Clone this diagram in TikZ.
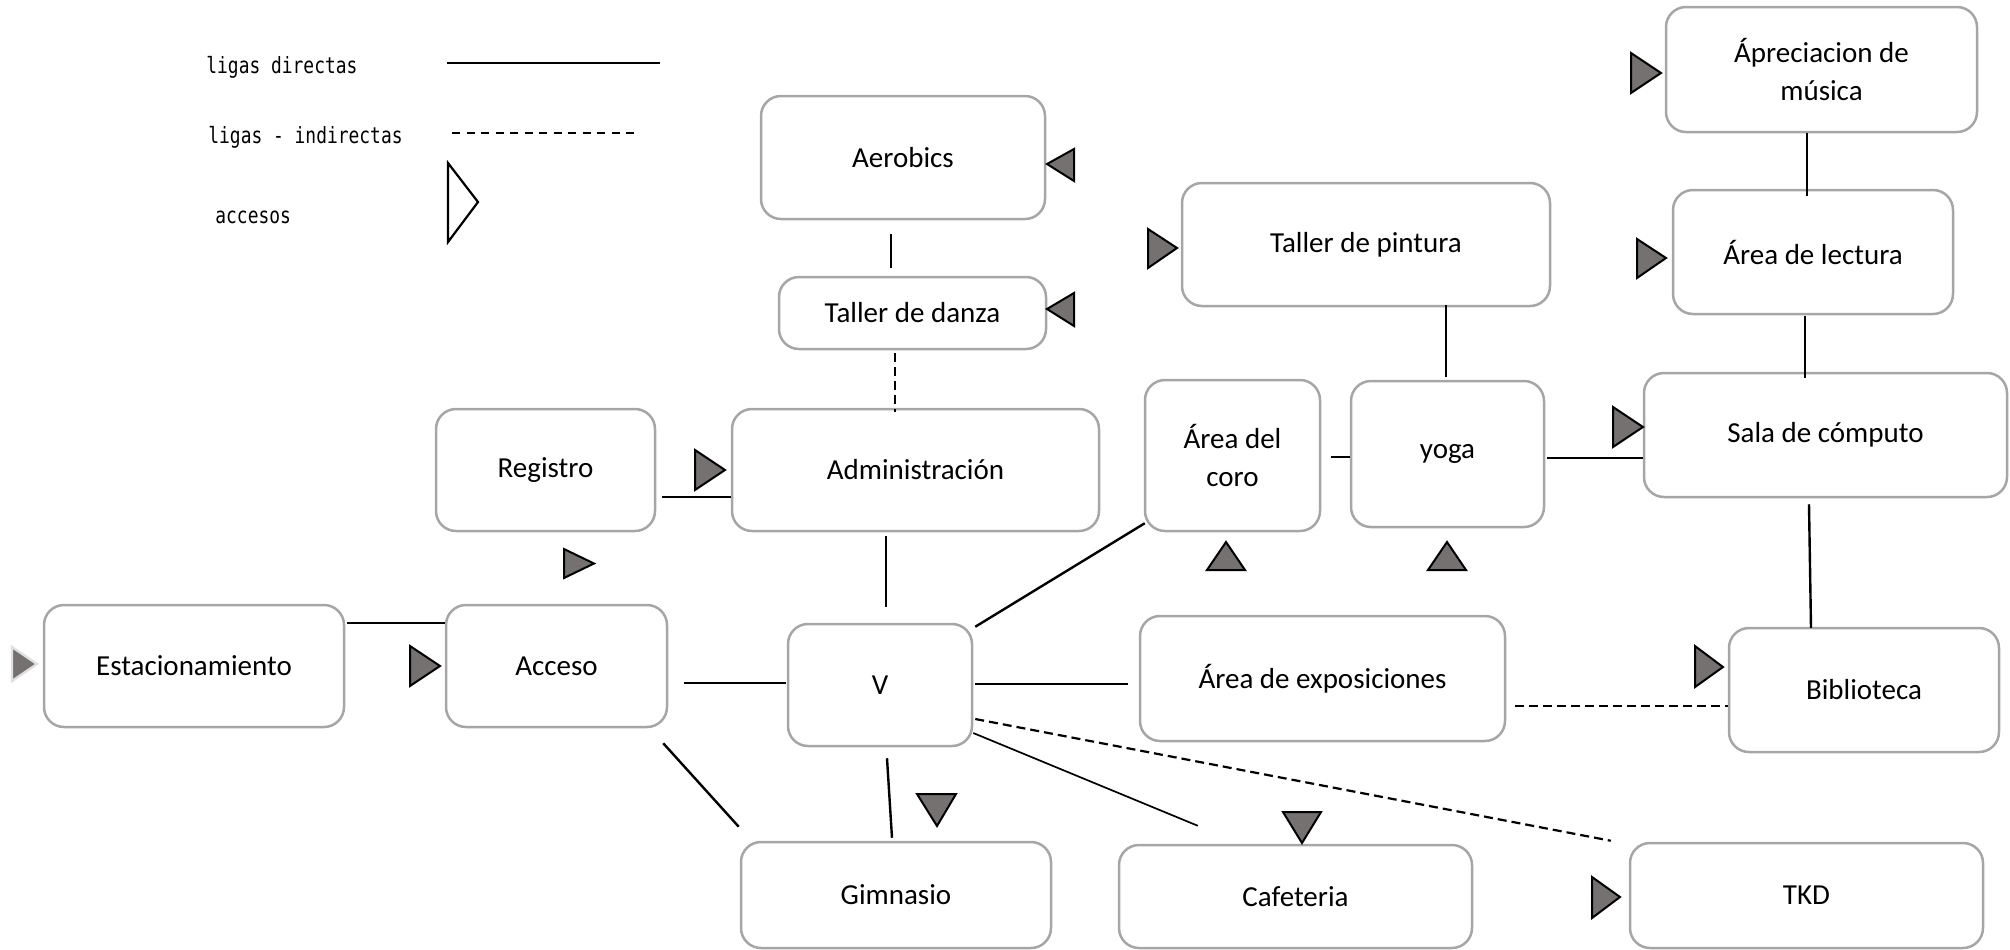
\documentclass[tikz,border=0pt]{standalone}
\usepackage{fontspec}
\setmainfont{Carlito}
\newfontfamily\legfont[FakeStretch=0.8]{DejaVu Sans Mono}
\usetikzlibrary{calc}
\definecolor{boxgray}{HTML}{A6A6A6}
\definecolor{accgray}{HTML}{767171}
\tikzset{
  box/.style={draw=boxgray, line width=1.25pt, rounded corners=10pt, fill=white,
    align=center, inner sep=0pt, font=\fontsize{14.5pt}{19pt}\selectfont},
  link/.style={line width=1.2pt, black},
  thinlink/.style={line width=0.85pt, black},
  dlink/.style={line width=1.1pt, black, dash pattern=on 4.5pt off 2.5pt},
  acc/.style={fill=accgray, draw=black, line width=1pt, line join=miter},
  legtext/.style={anchor=base west, inner sep=0pt, font=\legfont\fontsize{11.2pt}{13pt}\selectfont}
}
\begin{document}
\begin{tikzpicture}[x=0.5pt,y=-0.5pt]
\useasboundingbox (0,0) rectangle (2010,949);

% legend
\node[legtext] (l1) at (206,73) {ligas directas};
\node[legtext] (l2) at (208,143) {ligas - indirectas};
\node[legtext] (l3) at (215,223) {accesos};
\draw[line width=0.6pt] (447,63) -- (660,63);
\draw[line width=0.9pt, dash pattern=on 4pt off 3.25pt] (452,133) -- (640,133);
\draw[line width=1.1pt, fill=white, line join=miter] (448,163) -- (478,202) -- (448,242) -- cycle;

% boxes
\node[box, minimum width=142pt, minimum height=61.5pt] (aero) at (903,157.5) {Aerobics};
\node[box, minimum width=133.5pt, minimum height=36pt] (danza) at (912.5,313) {Taller de danza};
\node[box, minimum width=109.5pt, minimum height=61pt] (registro) at (545.5,470) {Registro};
\node[box, minimum width=183.5pt, minimum height=61pt] (admin) at (915.5,470) {Administración};
\node[box, minimum width=150pt, minimum height=61pt] (estac) at (194,666) {Estacionamiento};
\node[box, minimum width=110.5pt, minimum height=61pt] (acceso) at (556.5,666) {Acceso};
\node[box, minimum width=92pt, minimum height=61pt] (V) at (880,685) {V};
\node[box, minimum width=155pt, minimum height=53pt] (gimnasio) at (896,895) {Gimnasio};
\node[box, minimum width=176.5pt, minimum height=51.5pt] (cafe) at (1295.5,896.5) {Cafeteria};
\node[box, minimum width=176.5pt, minimum height=52.5pt] (tkd) at (1806.5,895.5) {TKD};
\node[box, minimum width=182.5pt, minimum height=62.5pt] (expo) at (1322.5,678.5) {Área de exposiciones};
\node[box, minimum width=135pt, minimum height=62pt] (biblio) at (1864,690) {Biblioteca};
\node[box, minimum width=87.5pt, minimum height=75.5pt] (coro) at (1232.5,455.5) {Área del\\coro};
\node[box, minimum width=96.5pt, minimum height=73pt] (yoga) at (1447.5,454) {yoga};
\node[box, minimum width=184pt, minimum height=61.5pt] (pintura) at (1366,244.5) {Taller de pintura};
\node[box, minimum width=155.5pt, minimum height=62.5pt] (aprec) at (1821.5,69.5) {Ápreciacion de\\música};
\node[box, minimum width=140pt, minimum height=62pt] (lectura) at (1813,252) {Área de lectura};
\node[box, minimum width=181.5pt, minimum height=62pt] (sala) at (1825.5,435) {Sala de cómputo};

% connectors
\draw[link] ($(aero.south)+(-12,14)$) -- ($(danza.north)+(-21.5,-8)$);
\draw[dlink] ($(danza.south)+(-17.5,3)$) -- ($(admin.north)+(-20.5,4)$);
\draw[thinlink] ($(registro.east)+(6,27)$) -- ($(admin.west)+(0,27)$);
\draw[link] ($(admin.south)+(-29.5,4)$) -- ($(V.north)+(6,-16)$);
\draw[link] ($(estac.east)+(2,-43)$) -- ($(acceso.west)+(0,-43)$);
\draw[link] ($(acceso.east)+(16,17)$) -- ($(V.west)+(-1,-2)$);
\draw[link] ($(acceso.south east)+(-5,15)$) -- ($(gimnasio.north west)+(-1,-14)$);
\draw[link] ($(V.south)+(7,11)$) -- ($(gimnasio.north)+(-4,-3)$);
\draw[link] ($(V.north east)+(2,4)$) -- ($(coro.south west)+(1,-9)$);
\draw[link] ($(V.east)+(2,-1)$) -- ($(expo.west)+(-11,5.5)$);
\draw[thinlink] ($(V.east)+(0,48)$) -- ($(cafe.north west)+(80,-18)$);
\draw[dlink] ($(V.east)+(2,34)$) -- ($(tkd.north west)+(-18,-1)$);
\draw[dlink] ($(expo.east)+(9,27.5)$) -- ($(biblio.west)+(0,16)$);
\draw[link] ($(coro.east)+(10,1.5)$) -- ($(yoga.west)+(0,3)$);
\draw[link] ($(pintura.south)+(80,-2)$) -- ($(yoga.north)+(-1.5,-3)$);
\draw[link] ($(yoga.east)+(2,4)$) -- ($(sala.west)+(0,23)$);
\draw[link] ($(aprec.south)+(-14.5,0)$) -- ($(lectura.north)+(-6,7)$);
\draw[link] ($(lectura.south)+(-8,1)$) -- ($(sala.north)+(-20.5,6)$);
\draw[link] ($(sala.south)+(-16.5,6)$) -- ($(biblio.north)+(-53,1)$);

% accesos
\filldraw[fill=accgray, draw=black!12, line width=1.2pt, line join=miter] (12,647) -- (37,664) -- (12,681) -- cycle;
\filldraw[acc] (410,646) -- (440,666) -- (410,686) -- cycle;
\filldraw[acc] (564,549) -- (594,563.5) -- (564,578) -- cycle;
\filldraw[acc] (695,450) -- (725,470) -- (695,490) -- cycle;
\filldraw[acc] (1074,149) -- (1047,164) -- (1074,181) -- cycle;
\filldraw[acc] (1074,293) -- (1047,309) -- (1074,326) -- cycle;
\filldraw[acc] (1148,229) -- (1177,248) -- (1148,268) -- cycle;
\filldraw[acc] (1207,570) -- (1226,542) -- (1245,570) -- cycle;
\filldraw[acc] (1428,570) -- (1447,542) -- (1466,570) -- cycle;
\filldraw[acc] (1613,407) -- (1643,427) -- (1613,447) -- cycle;
\filldraw[acc] (1637,239) -- (1666,258) -- (1637,278) -- cycle;
\filldraw[acc] (1631,53) -- (1661,73) -- (1631,93) -- cycle;
\filldraw[acc] (1695,646) -- (1723,667) -- (1695,687) -- cycle;
\filldraw[acc] (1592,877) -- (1620,897) -- (1592,918) -- cycle;
\filldraw[acc] (917,794) -- (956,794) -- (937,826) -- cycle;
\filldraw[acc] (1283,812) -- (1321,812) -- (1302,843) -- cycle;
\end{tikzpicture}
\end{document}
